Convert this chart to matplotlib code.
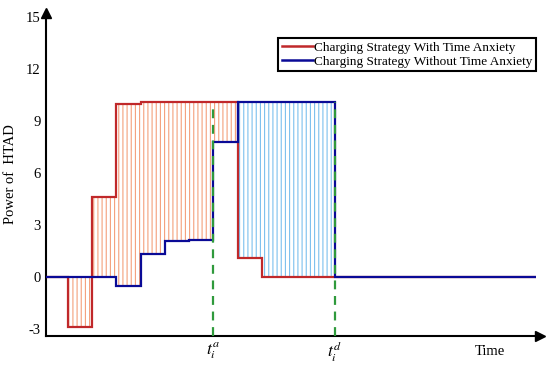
import numpy as np
import matplotlib
matplotlib.use('Agg')
import matplotlib.pyplot as plt

plt.rcParams['font.family'] = ['Liberation Serif', 'DejaVu Serif']
plt.rcParams['mathtext.fontset'] = 'stix'
plt.rcParams['axes.unicode_minus'] = False
plt.rcParams['hatch.linewidth'] = 0.8

# 时间段边界 (slot units) 与功率
edges = [0.1, 1, 2, 3, 4, 5, 6, 7, 8, 9, 10, 11, 12, 20.3]
power_with_anxiety = [0, -2.9, 4.6, 10.0, 10.1, 10.1, 10.1, 10.1, 1.1, 0, 0, 0, 0]
power_without_anxiety = [0, 0, 0, -0.5, 1.3, 2.05, 2.15, 7.8, 10.1, 10.1, 10.1, 10.1, 0]
t_arrive = 7
t_depart = 12
yticks = [-3, 0, 3, 6, 9, 12, 15]

red = '#c0282a'
blue = '#0a0a96'
salmon = '#f4a07c'
lightblue = '#7cc0ee'
green = '#2f9a3c'

edges = np.array(edges)
red_p = np.array(power_with_anxiety)
blue_p = np.array(power_without_anxiety)

fig = plt.figure(figsize=(5.5, 3.68), dpi=100)
ax = fig.add_axes([0.0836, 0.087, 0.898, 0.878])

# 阴影区域
ia = int(np.searchsorted(edges, t_arrive))
i1 = int(np.searchsorted(edges, 1))
i2 = ia + 1
id_ = int(np.searchsorted(edges, t_depart))
ax.stairs(red_p[i1:i2], edges[i1:i2 + 1], baseline=blue_p[i1:i2], fill=True,
          facecolor='none', edgecolor=salmon, hatch='||||', lw=0, zorder=1)
ax.stairs(blue_p[i2:id_], edges[i2:id_ + 1], baseline=red_p[i2:id_], fill=True,
          facecolor='none', edgecolor=lightblue, hatch='||||', lw=0, zorder=1)

ax.stairs(red_p, edges, baseline=None, color=red, lw=1.6, zorder=3,
          label='Charging Strategy With Time Anxiety')
ax.stairs(blue_p, edges, baseline=None, color=blue, lw=1.6, zorder=4,
          label='Charging Strategy Without Time Anxiety')

ax.vlines([t_arrive, t_depart], -3.4, [9.75, 10.1], colors=green, lw=1.6,
          linestyles=(0, (4, 3)), zorder=5)

ax.set_xlim(0.1, 20.45)
ax.set_ylim(-3.4, 15.23)
ax.set_yticks(yticks)
ax.set_xticks([t_arrive, t_depart])
ax.set_xticklabels([r'$t_i^a$', r'$t_i^d$'])
ax.tick_params(length=0, labelsize=10.5, pad=4)
ax.tick_params(axis='x', labelsize=12.5, pad=3)
ax.set_ylabel('Power of  HTAD', fontsize=10.5, labelpad=6)
ax.annotate('Time', xy=(18.4, 0), xycoords=('data', 'axes fraction'),
            xytext=(0, -11), textcoords='offset points', ha='center', va='center',
            fontsize=10.5)

for s in ['top', 'right']:
    ax.spines[s].set_visible(False)
for s in ['left', 'bottom']:
    ax.spines[s].set_linewidth(1.5)
ax.plot(1, 0, '>k', ms=6.5, transform=ax.transAxes, clip_on=False)
ax.plot(0, 1, '^k', ms=6.5, transform=ax.transAxes, clip_on=False)

leg = ax.legend(loc='upper right', bbox_to_anchor=(0.992, 0.923), fontsize=9.5,
                fancybox=False, edgecolor='black', framealpha=1,
                handlelength=2.4, handletextpad=0.05, labelspacing=0.14,
                borderpad=0.28, borderaxespad=0)
leg.get_frame().set_linewidth(1.5)
for h in leg.legend_handles:
    h.set_linewidth(1.8)

fig.savefig('out.png', dpi=100)
